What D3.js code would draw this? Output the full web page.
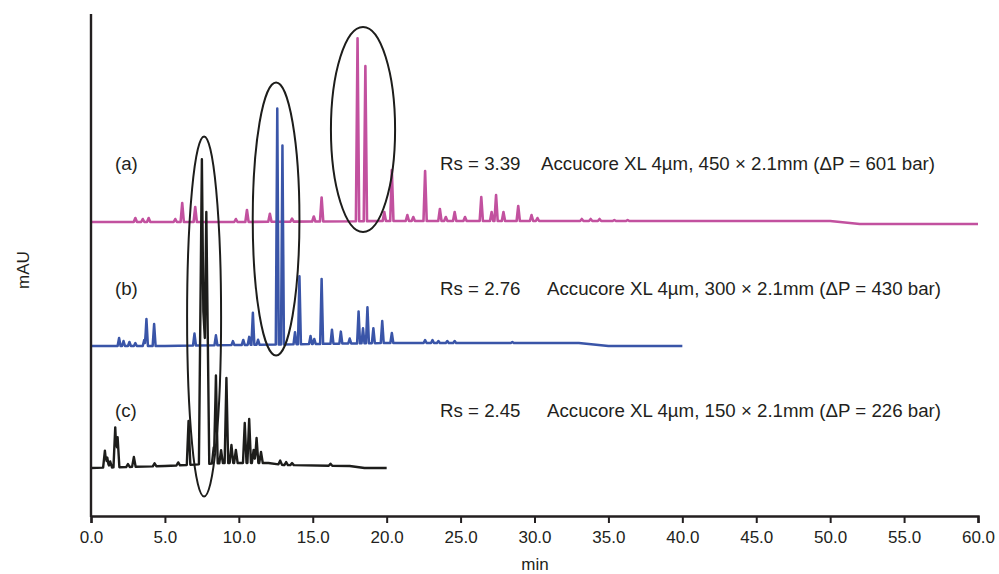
<!DOCTYPE html>
<html>
<head>
<meta charset="utf-8">
<script src="https://cdn.jsdelivr.net/npm/d3@7/dist/d3.min.js"></script>
<style>
  html, body { margin: 0; padding: 0; background: #fff; }
  svg { display: block; }
  text { font-family: "Liberation Sans", Arial, Helvetica, sans-serif; fill: #231f20; }
</style>
</head>
<body>
<svg id="chart" width="999" height="574"></svg>
<script>
// ---------------- data ----------------
const xTicks = [0, 5, 10, 15, 20, 25, 30, 35, 40, 45, 50, 55, 60];
const traceNames = ["(a)", "(b)", "(c)"];
const rsLabels = ["Rs = 3.39", "Rs = 2.76", "Rs = 2.45"];
const columnLabels = [
  "Accucore XL 4\u00b5m, 450 \u00d7 2.1mm (\u0394P = 601 bar)",
  "Accucore XL 4\u00b5m, 300 \u00d7 2.1mm (\u0394P = 430 bar)",
  "Accucore XL 4\u00b5m, 150 \u00d7 2.1mm (\u0394P = 226 bar)"
];

// baseline knots [min, mAU]
const baselineA = [[0, 294], [10, 294], [20, 295], [30, 295], [50, 295], [52, 292], [60, 292]];
const baselineB = [[0, 170], [5, 170], [10, 171], [20, 173], [33, 173], [35, 170], [40, 170]];
const baselineC = [[0, 48], [5, 50], [6.5, 51], [9, 53], [12, 53], [13, 51], [17.5, 50], [18.5, 48], [20, 48]];

// peaks [retention time (min), height above baseline (mAU), optional half-width (min)]
const peaksA = [
  [3.0, 4], [3.5, 3], [3.9, 4], [5.7, 3], [6.17, 19], [7.05, 15], [9.8, 3], [10.55, 12],
  [12.1, 8], [13.6, 3], [15.07, 5], [15.6, 24], [18.03, 183], [18.56, 155], [19.84, 9],
  [20.35, 51], [21.4, 6], [21.8, 4], [22.6, 50], [23.6, 12], [24.0, 4], [24.6, 9], [25.3, 4],
  [26.4, 24], [27.1, 9], [27.4, 26], [27.9, 9], [28.9, 15], [29.8, 6], [30.2, 3],
  [33.2, 2], [33.8, 2], [34.4, 2], [35.4, 1], [36.3, 1]
];
const peaksB = [
  [1.9, 8], [2.2, 5], [2.6, 4], [3.0, 3], [3.6, 6], [3.75, 27], [4.27, 22], [7.0, 12],
  [8.45, 10], [9.6, 4], [10.3, 5], [10.7, 8], [10.95, 32], [11.3, 5], [12.6, 236],
  [12.95, 199], [13.8, 12], [14.1, 68], [14.85, 8], [15.1, 5], [15.6, 65], [16.3, 14],
  [16.9, 12], [17.5, 5], [18.1, 32], [18.4, 15], [18.7, 36], [19.1, 15], [19.7, 22],
  [20.35, 10], [22.6, 3], [23.1, 3], [23.5, 2], [24.1, 2], [24.6, 2], [28.5, 1]
];
const peaksC = [
  [0.94, 17], [1.1, 10], [1.3, 6], [1.64, 40], [1.8, 30], [2.5, 3], [2.9, 10], [4.3, 3],
  [5.9, 3], [6.6, 44], [7.5, 305, 0.2], [7.8, 252, 0.2], [8.3, 16], [8.45, 88], [8.8, 13], [9.16, 85],
  [9.5, 18], [9.8, 13], [10.4, 40], [10.7, 44], [11.0, 13], [11.2, 25], [11.5, 11],
  [12.8, 4], [13.2, 3], [13.6, 2], [16.2, 2]
];

// highlighted critical pairs: [centre min, centre mAU, half-width min, half-height mAU]
const ellipses = [
  [7.65, 199.5, 1.15, 180],
  [12.52, 297, 1.58, 136.5],
  [18.4, 386.5, 2.17, 102.5]
];

// ---------------- layout ----------------
const svg = d3.select("#chart");
const x = d3.scaleLinear().domain([0, 60]).range([91, 978]);
const y = d3.scaleLinear().domain([0, 502]).range([516, 14]);

const traces = [
  { base: baselineA, peaks: peaksA, w: 0.11, color: "#c2519f", width: 2.6 },
  { base: baselineB, peaks: peaksB, w: 0.1, color: "#3a55a8", width: 2.5 },
  { base: baselineC, peaks: peaksC, w: 0.12, color: "#1d1d1b", width: 2.4 }
];

function baseAt(knots, t) {
  for (let i = 0; i < knots.length - 1; i++) {
    const [t0, v0] = knots[i], [t1, v1] = knots[i + 1];
    if (t >= t0 && t <= t1) return v0 + (v1 - v0) * (t - t0) / (t1 - t0);
  }
  return knots[knots.length - 1][1];
}
function signal(tr, t) {
  let v = baseAt(tr.base, t);
  for (const p of tr.peaks) {
    const w = p[2] || tr.w;
    const d = Math.abs(t - p[0]);
    if (d < w) v += p[1] * (1 - d / w);
  }
  return v;
}

const line = d3.line().x(d => x(d[0])).y(d => y(d[1]));

traces.forEach(tr => {
  const tEnd = tr.base[tr.base.length - 1][0];
  let ts = tr.base.map(d => d[0]);
  tr.peaks.forEach(p => { const w = p[2] || tr.w; ts.push(p[0] - w, p[0], p[0] + w); });
  ts = Array.from(new Set(ts.filter(t => t >= 0 && t <= tEnd))).sort((a, b) => a - b);
  const pts = ts.map(t => [t, signal(tr, t)]);
  svg.append("path")
    .attr("d", line(pts))
    .attr("fill", "none")
    .attr("stroke", tr.color)
    .attr("stroke-width", tr.width)
    .attr("stroke-linejoin", "round");
});

// ellipses
svg.selectAll("ellipse.mark").data(ellipses).join("ellipse")
  .attr("class", "mark")
  .attr("cx", d => x(d[0]))
  .attr("cy", d => y(d[1]))
  .attr("rx", d => x(d[2]) - x(0))
  .attr("ry", d => y(0) - y(d[3]))
  .attr("fill", "none")
  .attr("stroke", "#1d1d1b")
  .attr("stroke-width", 2);

// axes
const xAxis = d3.axisBottom(x).tickValues(xTicks).tickFormat(d3.format(".1f")).tickSizeOuter(0).tickSize(7).tickPadding(8);
const gx = svg.append("g").attr("transform", `translate(0,${y(0)})`).call(xAxis);
gx.attr("font-size", null).attr("font-family", null);
gx.select(".domain").attr("stroke", "#231f20").attr("stroke-width", 2.4);
gx.selectAll(".tick line").attr("stroke", "#231f20").attr("stroke-width", 2);
gx.selectAll(".tick text")
  .style("font-size", "17px")
  .attr("fill", "#231f20");

svg.append("line")
  .attr("x1", x(0)).attr("x2", x(0))
  .attr("y1", y(0) + 1).attr("y2", y(502))
  .attr("stroke", "#231f20").attr("stroke-width", 2.4);

svg.append("text").attr("x", 535).attr("y", 570).attr("text-anchor", "middle")
  .style("font-size", "17px").text("min");
svg.append("text").attr("transform", "translate(29,270) rotate(-90)")
  .attr("text-anchor", "middle").style("font-size", "17px").text("mAU");

// trace labels
const labelBaselines = [169.5, 294.5, 416.5];
const accX = [541, 547, 547];
traceNames.forEach((n, i) => {
  svg.append("text").attr("x", 115).attr("y", labelBaselines[i]).style("font-size", "18.7px").text(n);
  svg.append("text").attr("x", 440).attr("y", labelBaselines[i]).style("font-size", "18.7px").text(rsLabels[i]);
  svg.append("text").attr("x", accX[i]).attr("y", labelBaselines[i]).style("font-size", "18.7px").text(columnLabels[i]);
});
</script>
</body>
</html>
